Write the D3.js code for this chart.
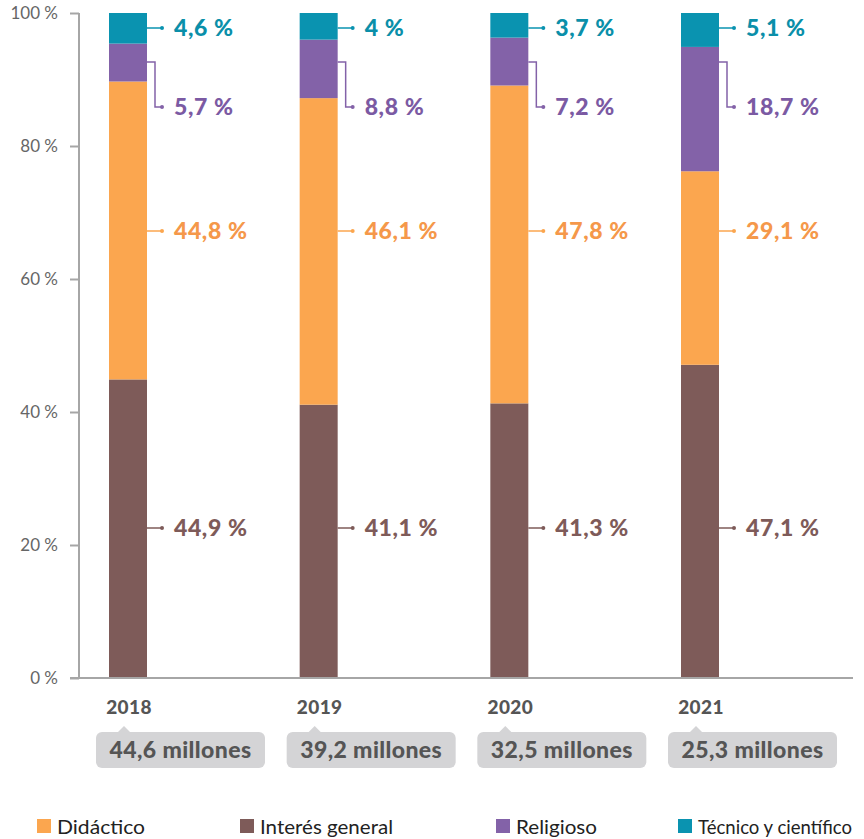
<!DOCTYPE html>
<html>
<head>
<meta charset="utf-8">
<script src="https://cdn.jsdelivr.net/npm/d3@7"></script>
<style>
  body { margin: 0; background: #fff; }
  svg { display: block; }
</style>
</head>
<body>
<svg id="chart" width="864" height="839"></svg>
<script>
// data
const years = ['2018', '2019', '2020', '2021'];
const totals = ['44,6 millones', '39,2 millones', '32,5 millones', '25,3 millones'];
const series = ['interes', 'didactico', 'religioso', 'tecnico']; // bottom -> top
const seriesNames = {
  didactico: 'Didáctico',
  interes: 'Interés general',
  religioso: 'Religioso',
  tecnico: 'Técnico y científico'
};
const interes = [44.9, 41.1, 41.3, 47.1];
const didactico = [44.8, 46.1, 47.8, 29.1];
const religioso = [5.7, 8.8, 7.2, 18.7];
const tecnico = [4.6, 4, 3.7, 5.1];
const yTicks = [0, 20, 40, 60, 80, 100];
const legendOrder = ['didactico', 'interes', 'religioso', 'tecnico'];

const colors = {
  interes: '#7e5b59',
  didactico: '#fba64f',
  religioso: '#8362a8',
  tecnico: '#0a93b0'
};
const textColors = {
  interes: '#7e5b59',
  didactico: '#f5984a',
  religioso: '#7b5aa3',
  tecnico: '#0a8fa9'
};

const rows = years.map((y, i) => ({
  year: y, interes: interes[i], didactico: didactico[i],
  religioso: religioso[i], tecnico: tecnico[i]
}));

const svg = d3.select('#chart');
const FONT = 'Lato, "Open Sans", sans-serif';

const x = d3.scaleBand().domain(years).range([109, 719]).paddingInner(0.8007).paddingOuter(0);
const y = d3.scaleLinear().domain([0, 100]).range([678, 13]);

// y axis
const yAxis = svg.append('g')
  .attr('transform', 'translate(79,0)')
  .call(d3.axisLeft(y).tickValues(yTicks).tickSize(9).tickPadding(12).tickFormat(d => d + ' %'));
yAxis.select('.domain').attr('stroke', '#a6a6a6').attr('stroke-width', 2).attr('d', `M0,${y(100)}V${y(0)}`);
yAxis.selectAll('.tick line').attr('stroke', '#a6a6a6').attr('stroke-width', 2);
yAxis.selectAll('.tick text').attr('fill', '#666').style('font', `17px ${FONT}`);

// stacked bars
const stack = d3.stack().keys(series)(rows);
svg.append('g').selectAll('g').data(stack).join('g')
  .attr('fill', d => colors[d.key])
  .selectAll('rect').data(d => d).join('rect')
  .attr('x', d => x(d.data.year))
  .attr('y', d => y(d[1]))
  .attr('height', d => y(d[0]) - y(d[1]))
  .attr('width', x.bandwidth());

// x axis baseline
svg.append('line')
  .attr('x1', 70).attr('x2', 853)
  .attr('y1', y(0)).attr('y2', y(0))
  .attr('stroke', '#a6a6a6').attr('stroke-width', 2);

// value labels with leaders (fixed label rows like the original)
const labelY = { tecnico: 28, religioso: 107, didactico: 231, interes: 528 };
const fmt = v => String(v).replace('.', ',') + ' %';
const labels = svg.append('g');
years.forEach((yr, i) => {
  const x0 = x(yr) + x.bandwidth();
  series.forEach(k => {
    const v = rows[i][k];
    const ly = labelY[k];
    const g = labels.append('g');
    let path;
    if (k === 'religioso') {
      path = `M${x0},62H${x0 + 8}V${ly}H${x0 + 15}`;
    } else {
      path = `M${x0},${ly}H${x0 + 15}`;
    }
    g.append('path').attr('d', path).attr('fill', 'none')
      .attr('stroke', colors[k]).attr('stroke-width', 1.5);
    g.append('circle').attr('cx', x0 + 15).attr('cy', ly).attr('r', 2).attr('fill', colors[k]);
    g.append('text')
      .attr('x', x0 + 27).attr('y', ly + 8)
      .attr('fill', textColors[k])
      .style('font', `900 23px ${FONT}`)
      .style('letter-spacing', '0.6px')
      .text(fmt(v));
  });
});

// year labels and total pills
const under = svg.append('g');
years.forEach((yr, i) => {
  const bx = x(yr);
  under.append('text')
    .attr('x', bx + x.bandwidth() / 2 + 1).attr('y', 714)
    .attr('text-anchor', 'middle')
    .attr('fill', '#555')
    .style('font', `900 19px ${FONT}`)
    .style('letter-spacing', '0.4px')
    .text(yr);
  const pw = 169, ph = 36, px = bx - 13, py = 732;
  under.append('path')
    .attr('d', `M${bx + 9},${py}L${bx + 15},${py - 6}L${bx + 21},${py}Z`)
    .attr('fill', '#d4d4d6');
  under.append('rect')
    .attr('x', px).attr('y', py).attr('width', pw).attr('height', ph)
    .attr('rx', 6).attr('fill', '#d4d4d6');
  under.append('text')
    .attr('x', px + pw / 2).attr('y', py + 26)
    .attr('text-anchor', 'middle')
    .attr('fill', '#555')
    .style('font', `900 23px ${FONT}`)
    .style('letter-spacing', '0.4px')
    .text(totals[i]);
});

// legend (narrow face in the original: squeeze to its widths)
const legendX = [37, 240, 496, 678];
const legendW = [88, 133, 81, 154];
const legend = svg.append('g');
legendOrder.forEach((k, i) => {
  legend.append('rect')
    .attr('x', legendX[i]).attr('y', 819).attr('width', 14).attr('height', 14)
    .attr('fill', colors[k]);
  legend.append('text')
    .attr('x', legendX[i] + 20).attr('y', 834)
    .attr('fill', '#222')
    .attr('textLength', legendW[i])
    .attr('lengthAdjust', 'spacingAndGlyphs')
    .style('font', `20px ${FONT}`)
    .text(seriesNames[k]);
});
</script>
</body>
</html>
